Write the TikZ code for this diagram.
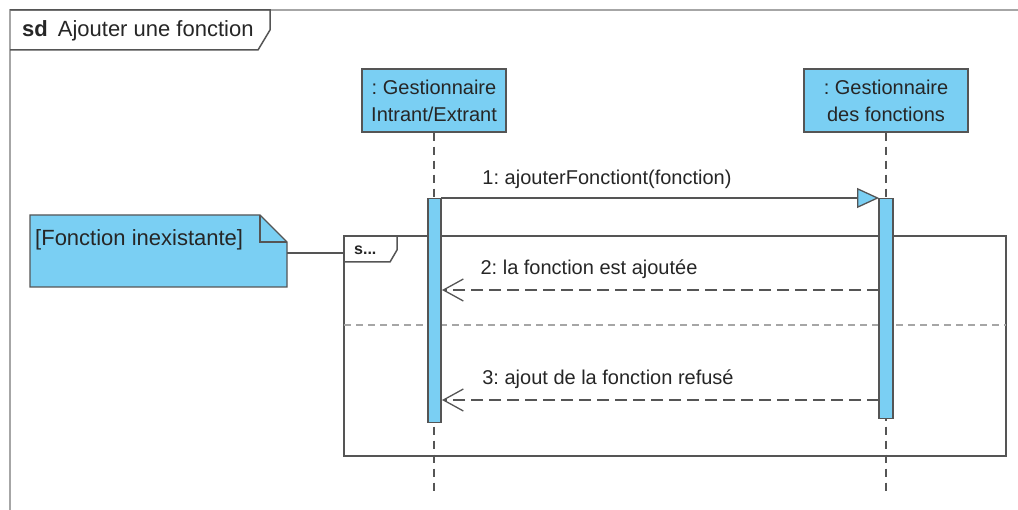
\documentclass[tikz,border=0pt]{standalone}
\usepackage{fontspec}
\setmainfont{Liberation Sans}
\usetikzlibrary{arrows.meta}
\definecolor{ublue}{HTML}{7ACFF3}
\definecolor{uline}{HTML}{555555}
\frenchspacing
\tikzset{
  lifebox/.style={draw=uline, fill=ublue, line width=1.3pt, minimum width=144pt, minimum height=63pt, align=center, inner sep=2pt, font=\fontsize{20}{27}\selectfont, text=black!85},
  actbar/.style={draw=uline, fill=ublue, line width=1.3pt},
  lifeline/.style={draw=uline, line width=1.6pt, dash pattern=on 8pt off 6pt},
  frameline/.style={draw=uline, line width=1.5pt},
  msgtext/.style={font=\fontsize{20}{24}\selectfont, text=black!85},
  syncmsg/.style={draw=uline, line width=1.6pt, -{Triangle[open, fill=ublue, length=22pt, width=20pt, line width=1.3pt]}},
  retmsg/.style={draw=uline, line width=1.6pt, dash pattern=on 12pt off 6pt, -{Straight Barb[length=20pt, width=22pt, line width=1.3pt]}}
}
\begin{document}
\begin{tikzpicture}[x=1pt, y=-1pt]
\useasboundingbox (0,0) rectangle (1018,510);
\fill[white] (0,0) rectangle (1018,510);
% outer frame
\draw[draw=gray!70, line width=1.3pt] (10,510) -- (10,10) -- (1018,10);
\draw[frameline] (10,10) -- (270,10) -- (270,30) -- (258,50) -- (10,50);
\node[anchor=west, font=\fontsize{22}{24}\selectfont, text=black!85, inner sep=0pt] (sdlbl) at (22,31) {\textbf{sd}\hspace{10pt}Ajouter une fonction};
% lifelines
\node[lifebox] (L1) at (434,100.5) {: Gestionnaire\\Intrant/Extrant};
\node[lifebox, minimum width=164pt] (L2) at (886,100.5) {: Gestionnaire\\des fonctions};
\coordinate (L1e) at (434,492);
\coordinate (L2e) at (886,492);
\draw[lifeline] (L1.south) -- (L1e);
\draw[lifeline] (L2.south) -- (L2e);
% combined fragment
\draw[frameline] (344,236) rectangle (1006,456);
\draw[frameline] (344,236) -- (397,236) -- (397,250) -- (390,262) -- (344,262);
\node[anchor=west, font=\bfseries\fontsize{16}{18}\selectfont, text=black!85, inner sep=0pt] (fraglbl) at (354,250) {s...};
\draw[draw=gray!70, line width=1.3pt, dash pattern=on 7pt off 5pt] (344,325) -- (1006,325);
% activation bars
\node[actbar, minimum width=13pt, minimum height=224pt, inner sep=0pt, anchor=north] (A1) at (434.5,198) {};
\node[actbar, minimum width=14pt, minimum height=220pt, inner sep=0pt, anchor=north] (A2) at (886,198) {};
% messages
\coordinate (m1s) at (441,198);
\coordinate (m1e) at (879,198);
\draw[syncmsg] (m1s) -- (m1e);
\node[msgtext] (t1) at (607,179) {1: ajouterFonctiont(fonction)};
\coordinate (m2s) at (879,290);
\coordinate (m2e) at (442,290);
\draw[retmsg] (m2s) -- (m2e);
\node[msgtext] (t2) at (589,269) {2: la fonction est ajoutée};
\coordinate (m3s) at (879,400);
\coordinate (m3e) at (442,400);
\draw[retmsg] (m3s) -- (m3e);
\node[msgtext] (t3) at (608,379) {3: ajout de la fonction refusé};
% note
\draw[draw=uline, fill=ublue, line width=1.4pt] (30,215) -- (260,215) -- (287,242) -- (287,287) -- (30,287) -- cycle;
\draw[draw=uline, line width=1.4pt] (260,215) -- (260,242) -- (287,242);
\node[anchor=west, font=\fontsize{22}{24}\selectfont, text=black!85, inner sep=0pt] (note) at (35,240) {[Fonction inexistante]};
\coordinate (noteR) at (287,253);
\coordinate (fragL) at (344,253);
\draw[frameline] (noteR) -- (fragL);
\end{tikzpicture}
\end{document}
